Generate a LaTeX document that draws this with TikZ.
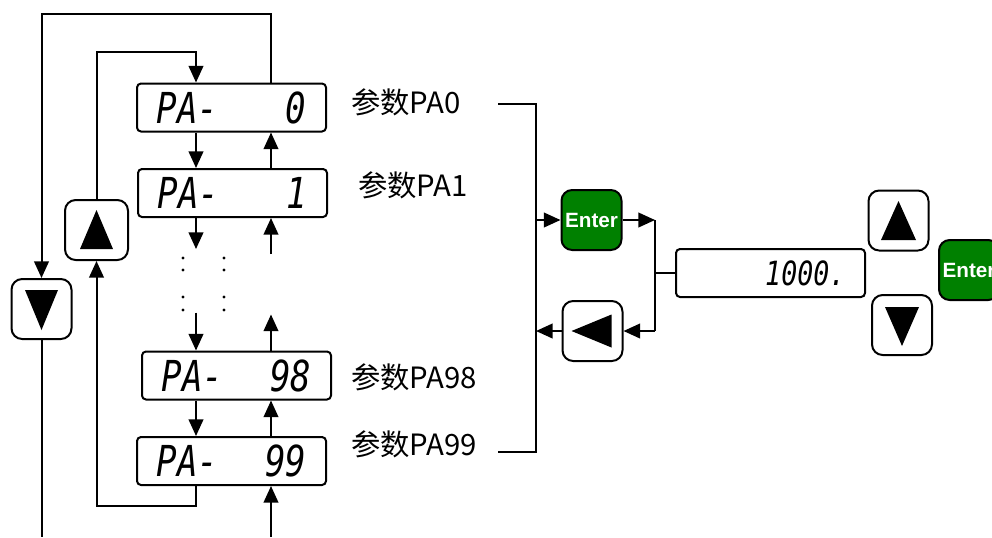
\documentclass[tikz,border=0pt]{standalone}
\usepackage{fontspec}
\setmainfont{Liberation Sans}
\newfontfamily\cjk{Noto Sans CJK SC}
\newfontfamily\seg{DejaVu Sans Mono}
\usetikzlibrary{arrows.meta,calc}
\definecolor{btngreen}{RGB}{0,128,0}
\newcommand{\segtxt}[2]{\scalebox{0.8}[1]{\makebox[140.6pt]{#1\hfill #2}}}
\begin{document}
\begin{tikzpicture}[x=0.75pt,y=-0.75pt,line width=1.5pt,
  arr/.style={-{Triangle[length=12.5pt,width=11pt]}},
  disp/.style={draw,rounded corners=3pt,inner sep=0pt,minimum width=189*0.75pt,minimum height=48*0.75pt,
    font=\seg\itshape\fontsize{32}{32}\selectfont},
  btn/.style={draw,rounded corners=8pt,inner sep=0pt,minimum width=60*0.75pt,minimum height=60*0.75pt},
  enterb/.style={btn,fill=btngreen,text=white,font=\bfseries\fontsize{15.5}{15.5}\selectfont},
  lab/.style={anchor=west,inner sep=0pt,font=\cjk\fontsize{22}{22}\selectfont}]
\useasboundingbox (0,0) rectangle (992,537);

% displays
\node[disp] (p0) at (231.5,107.5) {\segtxt{PA-}{0}};
\node[disp] (p1) at (232.5,193) {\segtxt{PA-}{1}};
\node[disp] (p98) at (236.5,375.5) {\segtxt{PA-}{98}};
\node[disp] (p99) at (231.5,461) {\segtxt{PA-}{99}};
\node[disp,font=\seg\itshape\fontsize{25}{25}\selectfont] (val) at (770.5,273) {\scalebox{0.8}[1]{\makebox[140.6pt][r]{1000.}}};

% buttons
\node[btn,minimum width=63*0.75pt] (upL) at (96.5,230) {};
\node[btn] (dnL) at (41.5,309) {};
\node[enterb] (ent) at (591.5,220) {Enter};
\node[btn] (lf) at (592.5,331) {};
\node[btn] (upR) at (898.5,220.5) {};
\node[btn] (dnR) at (902,325) {};
\node[enterb] (entR) at (969,270) {Enter};

% triangles in buttons
\fill ($(upL)+(0,-20)$) -- ++(-16.5,39) -- ++(33,0) -- cycle;
\fill ($(dnL)+(-16.5,-19)$) -- ++(33,0) -- ++(-16.5,40) -- cycle;
\fill ($(lf)+(-21,0)$) -- ++(40,-16.5) -- ++(0,33) -- cycle;
\fill ($(upR)+(0,-19.5)$) -- ++(-17.5,39) -- ++(35,0) -- cycle;
\fill ($(dnR)+(-17,-18)$) -- ++(34,0) -- ++(-17,39) -- cycle;

% labels
\node[lab] (l0) at (350,102) {参数PA0};
\node[lab] (l1) at (357,185) {参数PA1};
\node[lab] (l98) at (350,377) {参数PA98};
\node[lab] (l99) at (350,444) {参数PA99};

% columns
\coordinate (L) at (196,0);
\coordinate (R) at (271,0);
\coordinate (bot) at (0,537);
\coordinate (top1) at (0,14);
\coordinate (top2) at (0,52);

% outer loop
\draw[arr] (p0.north -| R) -- (top1 -| R) -| (dnL.north);
\draw (dnL.south) -- (dnL.south |- bot);
% inner loop
\draw[arr] (p99.south -| L) -- ++(0,20) -| (upL.south);
\draw[arr] (upL.north) -- (upL.north |- top2) -| (p0.north -| L);

% between displays
\draw[arr] (p0.south -| L) -- (p1.north -| L);
\draw[arr] (p1.north -| R) -- (p0.south -| R);
\draw[arr] (p1.south -| L) -- ++(0,31);
\draw[arr] ($(p1.south -| R)+(0,36)$) -- (p1.south -| R);
\draw[arr] ($(p98.north -| L)+(0,-38)$) -- (p98.north -| L);
\draw[arr] (p98.north -| R) -- ++(0,-36);
\draw[arr] (p98.south -| L) -- (p99.north -| L);
\draw[arr] (p99.north -| R) -- (p98.south -| R);
\draw[arr] (bot -| R) -- (p99.south -| R);

% dots
\foreach \x in {183,224} \foreach \y in {258,270,297,310} \fill (\x,\y) circle (1.2pt);

% right side
\coordinate (b0) at (498,104);
\coordinate (b99) at (498,452);
\coordinate (bx) at (536,0);
\coordinate (jx) at (655,0);
\draw (b0) -| (bx |- b99) -- (b99);
\draw[arr] (ent.west -| bx) -- (ent.west);
\draw[arr] (ent.east) -- (ent.east -| jx);
\draw (ent.east -| jx) -- (lf.east -| jx);
\draw[arr] (lf.east -| jx) -- (lf.east);
\draw[arr] (lf.west) -- (lf.west -| bx);
\draw (val.west) -- (val.west -| jx);
\end{tikzpicture}
\end{document}
